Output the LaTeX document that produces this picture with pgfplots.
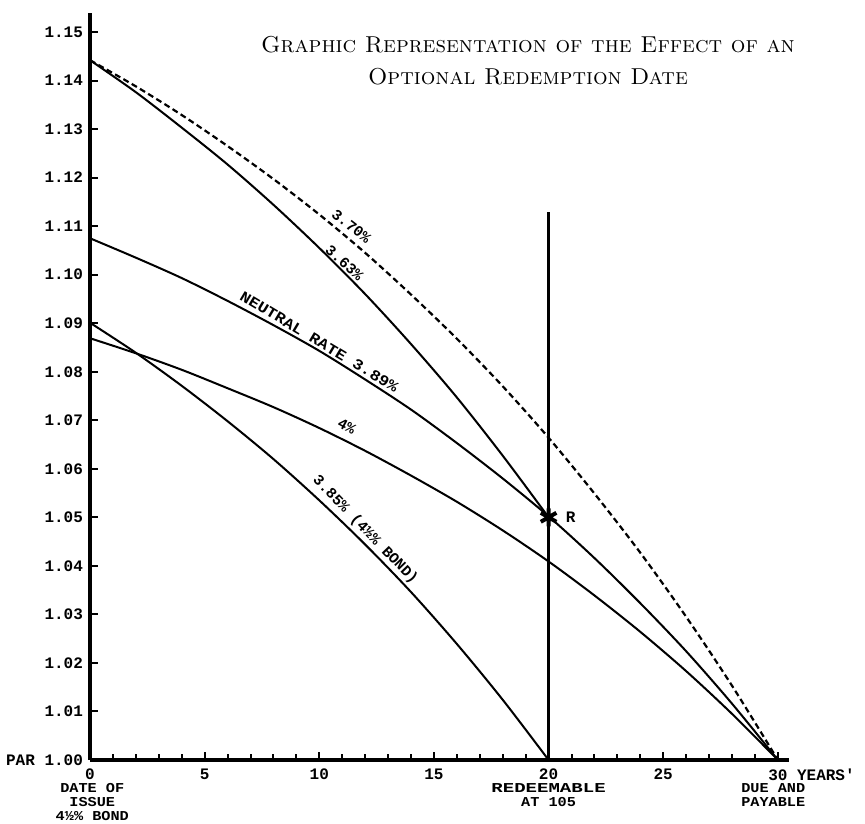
\documentclass[border=0pt]{standalone}
\usepackage{fontspec}
\usepackage{pgfplots}
\pgfplotsset{compat=1.18}
\newfontfamily\labfont{Liberation Mono}
\newfontfamily\labwidefont{Liberation Mono}[FakeStretch=1.12]
\newfontfamily\labwiderfont{Liberation Mono}[FakeStretch=1.4]
\newcommand\lab{\fontsize{8}{9}\selectfont\labfont\bfseries}
\newcommand\curvelab{\fontsize{7.5}{9}\selectfont\labfont\bfseries}
\newcommand\desc{\fontsize{6.8}{6.9}\selectfont\labwidefont\bfseries}

\pgfplotstableread{
x y
0 1.1442
2 1.1388
4 1.1329
6 1.1265
8 1.1197
10 1.1124
12 1.1045
14 1.0959
16 1.0868
18 1.0770
20 1.0664
22 1.0549
24 1.0427
26 1.0295
28 1.0153
30 1.0000
}\ratesevenzero

\pgfplotstableread{
x y
0 1.1442
2 1.1376
4 1.1303
6 1.1227
8 1.1144
10 1.1055
12 1.0960
14 1.0857
16 1.0747
18 1.0627
20 1.0500
}\ratesixthree

\pgfplotstableread{
x y
0 1.1075
2 1.1035
4 1.0993
6 1.0946
8 1.0896
10 1.0843
12 1.0784
14 1.0722
16 1.0653
18 1.0580
20 1.0502
22 1.0416
24 1.0323
26 1.0224
28 1.0116
30 1.0000
}\neutral

\pgfplotstableread{
x y
0 1.0869
2 1.0838
4 1.0804
6 1.0766
8 1.0727
10 1.0684
12 1.0637
14 1.0586
16 1.0532
18 1.0473
20 1.0409
22 1.0339
24 1.0264
26 1.0183
28 1.0095
30 1.0000
}\fourpct

\pgfplotstableread{
x y
0 1.0901
2 1.0839
4 1.0771
6 1.0698
8 1.0620
10 1.0535
12 1.0444
14 1.0346
16 1.0239
18 1.0124
20 1.0000
}\bond

\begin{document}
\begin{tikzpicture}
\begin{axis}[
  scale only axis,
  width=349.7pt, height=373.7pt,
  xmin=0, xmax=30.5, ymin=1, ymax=1.154,
  axis x line=bottom, axis y line=left,
  axis line style={-, line width=2pt, black},
  clip=false,
  tick align=inside,
  major tick length=4pt, minor tick length=3.2pt,
  tick style={black, line width=1pt},
  xtick={0,5,10,15,20,25,30},
  minor x tick num=4,
  xticklabels={0,5,10,15,20,25,{30\rlap{ YEARS'}}},
  x tick label style={font=\lab, anchor=north, yshift=-1pt},
  ytick={1,1.01,1.02,1.03,1.04,1.05,1.06,1.07,1.08,1.09,1.10,1.11,1.12,1.13,1.14,1.15},
  yticklabels={PAR 1.00,1.01,1.02,1.03,1.04,1.05,1.06,1.07,1.08,1.09,1.10,1.11,1.12,1.13,1.14,1.15},
  y tick label style={font=\lab},
]
\addplot[black, line width=1.1pt, dash pattern=on 3pt off 1.8pt, smooth] table[x=x,y=y] {\ratesevenzero};
\addplot[black, line width=1pt, smooth] table[x=x,y=y] {\ratesixthree};
\addplot[black, line width=1pt, smooth] table[x=x,y=y] {\neutral};
\addplot[black, line width=1pt, smooth] table[x=x,y=y] {\fourpct};
\addplot[black, line width=1pt, smooth] table[x=x,y=y] {\bond};
\addplot[black, line width=1.5pt] coordinates {(20,1.00) (20,1.113)};
\addplot[only marks, mark=asterisk, mark size=4.5pt, mark options={line width=2pt, black}] coordinates {(20,1.05)};

\node[font=\lab, anchor=west] at (axis cs:20.45,1.05) {R};

\node[font=\desc, align=center, anchor=north, inner sep=0pt] at (axis cs:0.1,0.99526) {DATE OF\\ISSUE\\4½\% BOND};
\node[font=\desc, align=center, anchor=north, inner sep=0pt] at (axis cs:20,0.99526) {{\labwiderfont\bfseries REDEEMABLE}\\AT 105};
\node[font=\desc, align=center, anchor=north, inner sep=0pt] at (axis cs:29.8,0.99526) {DUE AND\\PAYABLE};

\node[font=\curvelab, rotate=-38] at (axis cs:11.4,1.1100) {3.70\%};
\node[font=\curvelab, rotate=-42] at (axis cs:11.1,1.1024) {3.63\%};
\node[font=\curvelab, rotate=-31] at (axis cs:10.0,1.0862) {\labwidefont\bfseries NEUTRAL RATE 3.89\%};
\node[font=\curvelab, rotate=-28] at (axis cs:11.2,1.0688) {4\%};
\node[font=\curvelab, rotate=-46] at (axis cs:12.0,1.0474) {3.85\% (4½\% BOND)};

\node[font=\fontsize{11.5}{16}\selectfont, align=center] at (axis cs:19.1,1.1440)
  {\textsc{Graphic Representation of the Effect of an}\\\textsc{Optional Redemption Date}};

\coordinate (BL) at (axis cs:-3.925,0.98681);
\coordinate (TR) at (axis cs:33.80,1.1566);
\end{axis}
\pgfresetboundingbox
\path (BL) rectangle (TR);
\end{tikzpicture}
\end{document}
